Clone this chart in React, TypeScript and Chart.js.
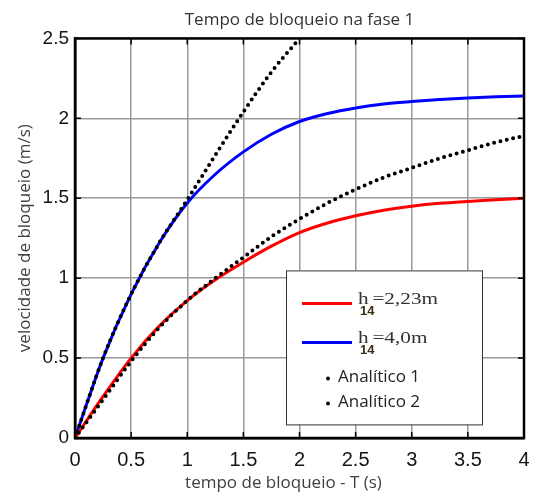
import { useEffect, useRef } from "react";
import { Chart, registerables } from "chart.js";

Chart.register(...registerables);

// ---- data ----
const timeSteps = [0, 0.25, 0.5, 0.75, 1, 1.25, 1.5, 1.75, 2, 2.25, 2.5, 2.75, 3, 3.25, 3.5, 3.75, 4];
const velH223 = [0, 0.26, 0.5, 0.7, 0.86, 0.99, 1.1, 1.2, 1.285, 1.345, 1.39, 1.425, 1.45, 1.468, 1.48, 1.49, 1.5];
const velH40 = [0, 0.5, 0.9, 1.22, 1.47, 1.65, 1.79, 1.9, 1.98, 2.03, 2.065, 2.09, 2.105, 2.117, 2.127, 2.135, 2.14];
const analitico1Time = [0, 0.25, 0.5, 0.75, 1, 1.25, 1.5, 1.75, 2];
const analitico1Vel = [0, 0.5, 0.9, 1.22, 1.49, 1.77, 2.04, 2.29, 2.5];
const analitico2Vel = [0, 0.24, 0.48, 0.69, 0.86, 1.0, 1.13, 1.26, 1.37, 1.47, 1.555, 1.63, 1.69, 1.75, 1.8, 1.85, 1.89];

const xTickValues = [0, 0.5, 1, 1.5, 2, 2.5, 3, 3.5, 4];
const xTickLabels = ["0", "0.5", "1", "1.5", "2", "2.5", "3", "3.5", "4"];
const yTickValues = [0, 0.5, 1, 1.5, 2, 2.5];
const yTickLabels = ["0", "0.5", "1", "1.5", "2", "2.5"];

const titleText = "Tempo de bloqueio na fase 1";
const xTitleText = "tempo de bloqueio - T (s)";
const yTitleText = "velocidade de bloqueio (m/s)";

const labelH223 = { base: "h", sub: "14", rest: "=2,23m" };
const labelH40 = { base: "h", sub: "14", rest: "=4,0m" };
const labelAn1 = "Analítico 1";
const labelAn2 = "Analítico 2";

const toPoints = (xs: number[], ys: number[]) => xs.map((x, i) => ({ x, y: ys[i] }));

const framePlugin = {
  id: "framePlugin",
  afterDraw(chart: any) {
    const { ctx, chartArea, scales } = chart;
    const { left, right, top, bottom } = chartArea;
    const xs = scales.x;
    const ys = scales.y;
    ctx.save();
    // frame
    ctx.strokeStyle = "#000";
    ctx.lineWidth = 2.5;
    ctx.strokeRect(left, top, right - left, bottom - top);
    // inner ticks
    ctx.lineWidth = 1.5;
    ctx.beginPath();
    for (const v of xTickValues) {
      const px = xs.getPixelForValue(v);
      ctx.moveTo(px, bottom);
      ctx.lineTo(px, bottom - 6);
      ctx.moveTo(px, top);
      ctx.lineTo(px, top + 6);
    }
    for (const v of yTickValues) {
      const py = ys.getPixelForValue(v);
      ctx.moveTo(left, py);
      ctx.lineTo(left + 6, py);
      ctx.moveTo(right, py);
      ctx.lineTo(right - 6, py);
    }
    ctx.stroke();

    // x axis title
    ctx.font = '17px "Open Sans"';
    ctx.fillStyle = "#404040";
    ctx.textAlign = "center";
    ctx.textBaseline = "middle";
    ctx.fillText(xTitleText, (left + right) / 2 - 16, 483);

    // legend box
    const ds = chart.data.datasets;
    const bx = left + 211;
    const by = top + 232;
    const bw = 196;
    const bh = 154;
    ctx.fillStyle = "#fff";
    ctx.fillRect(bx, by, bw, bh);
    ctx.strokeStyle = "#333";
    ctx.lineWidth = 1;
    ctx.strokeRect(bx + 0.5, by + 0.5, bw, bh);

    const lineEntries = [
      { lab: labelH223, color: ds[2].borderColor, y: by + 33 },
      { lab: labelH40, color: ds[3].borderColor, y: by + 72 },
    ];
    for (const e of lineEntries) {
      ctx.strokeStyle = e.color;
      ctx.lineWidth = 3;
      ctx.beginPath();
      ctx.moveTo(bx + 16, e.y);
      ctx.lineTo(bx + 66, e.y);
      ctx.stroke();
      ctx.textAlign = "left";
      ctx.textBaseline = "alphabetic";
      // serif text, slightly widened like the reference
      ctx.save();
      ctx.translate(bx + 72, e.y + 1);
      ctx.scale(1.25, 1);
      ctx.fillStyle = "#333";
      ctx.font = '17px "Liberation Serif"';
      ctx.fillText(e.lab.base, 0, 0);
      ctx.fillText(e.lab.rest, 11.5, 0);
      ctx.restore();
      ctx.font = 'bold 13px "Liberation Sans"';
      ctx.fillStyle = "#3a2a14";
      ctx.fillText(e.lab.sub, bx + 74, e.y + 12);
    }

    const dotEntries = [
      { lab: labelAn1, y: by + 107 },
      { lab: labelAn2, y: by + 132 },
    ];
    for (const e of dotEntries) {
      ctx.fillStyle = "#000";
      ctx.beginPath();
      ctx.arc(bx + 42, e.y + 1, 2, 0, Math.PI * 2);
      ctx.fill();
      ctx.fillStyle = "#222";
      ctx.font = '17px "Open Sans"';
      ctx.textAlign = "left";
      ctx.textBaseline = "middle";
      ctx.fillText(e.lab, bx + 52, e.y);
    }
    ctx.restore();
  },
};

export default function App() {
  const ref = useRef<HTMLCanvasElement | null>(null);

  useEffect(() => {
    document.body.style.margin = "0";
    if (!ref.current) return;
    const dotted = {
      borderColor: "#000",
      borderWidth: 4,
      borderDash: [0, 6.5],
      borderCapStyle: "round" as const,
      pointRadius: 0,
      cubicInterpolationMode: "monotone" as const,
      fill: false,
      order: 0,
    };
    const solid = {
      borderWidth: 3,
      pointRadius: 0,
      cubicInterpolationMode: "monotone" as const,
      fill: false,
      order: 1,
    };
    const chart = new Chart(ref.current, {
      type: "line",
      data: {
        datasets: [
          { label: labelAn1, data: toPoints(analitico1Time, analitico1Vel), ...dotted },
          { label: labelAn2, data: toPoints(timeSteps, analitico2Vel), ...dotted },
          { label: "h14=2,23m", data: toPoints(timeSteps, velH223), borderColor: "#ff0000", ...solid },
          { label: "h14=4,0m", data: toPoints(timeSteps, velH40), borderColor: "#0000ff", ...solid },
        ] as any,
      },
      options: {
        animation: false,
        responsive: false,
        layout: { padding: { left: 0, right: 9, top: 0, bottom: 0 } },
        plugins: {
          legend: { display: false },
          tooltip: { enabled: false },
          title: {
            display: true,
            text: titleText,
            fullSize: false,
            color: "#333",
            font: { family: "Open Sans", size: 17, weight: "normal" },
            padding: { top: 10, bottom: 8 },
          },
        },
        scales: {
          x: {
            type: "linear",
            min: 0,
            max: 4,
            afterBuildTicks: (s: any) => {
              s.ticks = xTickValues.map((v) => ({ value: v }));
            },
            afterFit: (s: any) => {
              s.height = 60;
            },
            ticks: {
              callback: (_v: any, i: number) => xTickLabels[i],
              font: { family: "Liberation Sans", size: 20 },
              color: "#151515",
              padding: 0,
              maxRotation: 0,
              autoSkip: false,
            },
            grid: {
              color: "#9a9a9a",
              lineWidth: 1.5,
              drawTicks: true,
              tickLength: 10,
              tickColor: "rgba(0,0,0,0)",
            },
            border: { color: "#000", width: 2.5 },
          },
          y: {
            type: "linear",
            min: 0,
            max: 2.5,
            afterBuildTicks: (s: any) => {
              s.ticks = yTickValues.map((v) => ({ value: v }));
            },
            afterFit: (s: any) => {
              s.width = 75;
            },
            ticks: {
              callback: (_v: any, i: number) => yTickLabels[i],
              font: { family: "Liberation Sans", size: 19 },
              color: "#151515",
              padding: 6,
              autoSkip: false,
            },
            grid: { color: "#9a9a9a", lineWidth: 1.5, drawTicks: false },
            border: { color: "#000", width: 2.5 },
            title: {
              display: true,
              text: yTitleText,
              color: "#404040",
              font: { family: "Open Sans", size: 17 },
              padding: { top: 15, bottom: 0 },
            },
          },
        },
      } as any,
      plugins: [framePlugin],
    });
    return () => chart.destroy();
  }, []);

  return <canvas ref={ref} width={533} height={498} style={{ display: "block" }} />;
}
